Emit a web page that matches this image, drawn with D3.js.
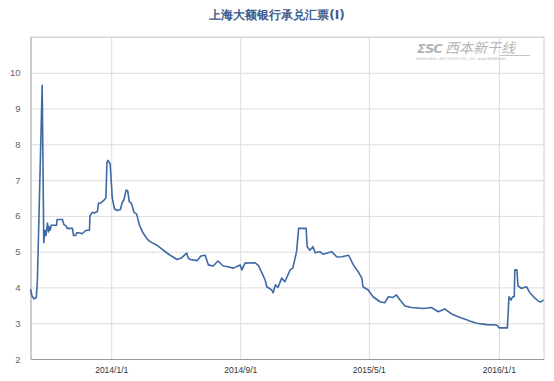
<!DOCTYPE html>
<html>
<head>
<meta charset="utf-8">
<script src="https://cdn.jsdelivr.net/npm/d3@7"></script>
<style>
  body { margin: 0; background: #fff; }
  svg { display: block; font-family: "DejaVu Sans", Arial, sans-serif; }
  .grid line { stroke: #dcdcdc; }
  .grid path { display: none; }
</style>
</head>
<body>
<svg id="chart" width="554" height="381"></svg>
<script>
const title = '上海大额银行承兑汇票(Ⅰ)';

// daily series, sampled at the turning points
const dates = [
  '2013-08-02','2013-08-05','2013-08-09','2013-08-13','2013-08-15','2013-08-24','2013-08-27','2013-08-29','2013-08-31',
  '2013-09-03','2013-09-05','2013-09-06','2013-09-08','2013-09-10','2013-09-20','2013-09-21',
  '2013-10-01','2013-10-04','2013-10-08','2013-10-10','2013-10-20','2013-10-22','2013-10-26','2013-10-28',
  '2013-11-04','2013-11-07','2013-11-11','2013-11-15','2013-11-21','2013-11-22','2013-11-26','2013-11-30',
  '2013-12-06','2013-12-08','2013-12-13','2013-12-19','2013-12-22','2013-12-24','2013-12-26','2013-12-30',
  '2014-01-03','2014-01-07','2014-01-12','2014-01-18','2014-01-22','2014-01-25','2014-01-29',
  '2014-02-01','2014-02-04','2014-02-08','2014-02-13','2014-02-18','2014-02-23',
  '2014-03-02','2014-03-10','2014-03-15','2014-03-28','2014-04-09','2014-04-22',
  '2014-05-05','2014-05-13','2014-05-23','2014-05-26','2014-05-30','2014-06-12','2014-06-19','2014-06-27',
  '2014-07-03','2014-07-12','2014-07-21','2014-07-31','2014-08-09','2014-08-19',
  '2014-09-01','2014-09-04','2014-09-10','2014-09-29','2014-10-05','2014-10-12','2014-10-18','2014-10-21','2014-10-30',
  '2014-11-02','2014-11-06','2014-11-11','2014-11-18','2014-11-24','2014-12-04','2014-12-09','2014-12-16','2014-12-20',
  '2015-01-03','2015-01-05','2015-01-10','2015-01-16','2015-01-20','2015-01-29','2015-02-04','2015-02-20',
  '2015-03-02','2015-03-11','2015-03-24','2015-04-02','2015-04-11','2015-04-18','2015-04-20','2015-04-30',
  '2015-05-09','2015-05-22','2015-05-31','2015-06-07','2015-06-16','2015-06-22','2015-06-29',
  '2015-07-08','2015-07-21','2015-08-12','2015-08-27','2015-09-09','2015-09-21','2015-10-04','2015-10-20',
  '2015-11-01','2015-11-07','2015-11-20','2015-12-09','2015-12-28',
  '2016-01-02','2016-01-17','2016-01-20','2016-01-24','2016-01-27','2016-01-30','2016-01-31',
  '2016-02-04','2016-02-06','2016-02-13','2016-02-17','2016-02-22','2016-02-28',
  '2016-03-09','2016-03-17','2016-03-21','2016-03-25'
];
const values = [
  3.95,3.75,3.68,3.72,4.2,9.65,5.25,5.6,5.45,
  5.8,5.55,5.7,5.6,5.74,5.74,5.9,
  5.9,5.75,5.72,5.65,5.65,5.45,5.45,5.53,
  5.52,5.5,5.55,5.6,5.6,6.0,6.1,6.08,
  6.12,6.35,6.37,6.45,6.5,7.5,7.55,7.45,
  6.5,6.2,6.15,6.17,6.38,6.45,6.72,
  6.7,6.4,6.35,6.1,6.05,5.75,
  5.52,5.35,5.28,5.18,5.04,4.9,
  4.78,4.82,4.96,4.82,4.78,4.75,4.88,4.9,
  4.63,4.6,4.74,4.6,4.58,4.54,
  4.63,4.49,4.68,4.69,4.62,4.4,4.2,4.02,3.93,
  3.85,4.07,4.0,4.26,4.16,4.49,4.54,5.0,5.65,
  5.65,5.14,5.04,5.14,4.97,5.0,4.93,5.0,
  4.85,4.86,4.9,4.63,4.44,4.26,4.02,3.93,
  3.74,3.6,3.57,3.74,3.72,3.79,3.65,
  3.48,3.44,3.41,3.44,3.32,3.4,3.26,3.16,
  3.1,3.06,3.0,2.96,2.95,
  2.87,2.87,3.74,3.65,3.74,3.74,4.49,
  4.49,4.04,3.97,4.0,4.02,3.86,
  3.7,3.6,3.6,3.65
];

const xTickDates = ['2014-01-01', '2014-09-01', '2015-05-01', '2016-01-01'];
const xTickLabels = ['2014/1/1', '2014/9/1', '2015/5/1', '2016/1/1'];
const yTicks = [2, 3, 4, 5, 6, 7, 8, 9, 10];

const parse = d3.timeParse('%Y-%m-%d');
const data = dates.map((d, i) => ({ date: parse(d), value: values[i] }));

const svg = d3.select('#chart');
const m = { left: 30.5, right: 544, top: 37, bottom: 359 };

const x = d3.scaleTime()
  .domain([parse('2013-08-02'), parse('2016-03-26')])
  .range([m.left, m.right]);
const y = d3.scaleLinear().domain([2, 11]).range([m.bottom, m.top]);

// title
svg.append('text')
  .attr('x', 277).attr('y', 19)
  .attr('text-anchor', 'middle')
  .attr('font-size', 12).attr('font-weight', 'bold')
  .attr('fill', '#3d5a8c')
  .text(title);

// horizontal grid
svg.append('g')
  .attr('class', 'grid')
  .attr('transform', `translate(${m.left},0)`)
  .call(d3.axisLeft(y).tickValues([3, 4, 5, 6, 7, 8, 9, 10, 11]).tickSize(-(m.right - m.left)).tickFormat(''));

// vertical grid
svg.append('g')
  .attr('class', 'grid')
  .attr('transform', `translate(0,${m.bottom})`)
  .call(d3.axisBottom(x).tickValues(xTickDates.map(parse)).tickSize(-(m.bottom - m.top)).tickFormat(''))
  .selectAll('line').attr('stroke', '#e8e8e8');

// border
svg.append('line').attr('x1', m.right).attr('x2', m.right).attr('y1', m.top).attr('y2', m.bottom).attr('stroke', '#d0d0d0');
svg.append('line').attr('x1', m.left).attr('x2', m.right).attr('y1', m.top).attr('y2', m.top).attr('stroke', '#d0d0d0');

// watermark
const wm = svg.append('g').attr('fill', '#b4b4b4');
wm.append('text').attr('x', 417).attr('y', 53)
  .attr('font-size', 13).attr('font-weight', 'bold').attr('font-style', 'italic')
  .attr('letter-spacing', -1).text('ΣSC');
wm.append('text').attr('x', 445).attr('y', 53)
  .attr('font-size', 14).attr('font-style', 'italic')
  .attr('font-family', '"Noto Sans CJK SC", sans-serif')
  .text('西本新干线');
wm.append('text').attr('x', 416).attr('y', 60)
  .attr('font-size', 3.6).text('XIBEN NEW LINE STOCK CO., LTD.   www.96369.net');
wm.append('line').attr('x1', 500).attr('x2', 530).attr('y1', 55.5).attr('y2', 55.5)
  .attr('stroke', '#b4b4b4').attr('stroke-width', 0.8);

// axes
const yAxis = svg.append('g')
  .attr('transform', `translate(${m.left},0)`)
  .call(d3.axisLeft(y).tickValues(yTicks).tickSize(0).tickPadding(10));
yAxis.select('.domain').attr('stroke', '#999');
yAxis.selectAll('text').attr('fill', '#666').attr('font-size', 9.5);

const xAxis = svg.append('g')
  .attr('transform', `translate(0,${m.bottom})`)
  .call(d3.axisBottom(x).tickValues(xTickDates.map(parse)).tickSize(0).tickPadding(8)
    .tickFormat((d, i) => xTickLabels[i]));
xAxis.select('.domain').attr('stroke', '#999');
xAxis.selectAll('text').attr('fill', '#333').attr('font-size', 8.5);

// series
const line = d3.line().x(d => x(d.date)).y(d => y(d.value));
svg.append('path')
  .datum(data)
  .attr('fill', 'none')
  .attr('stroke', '#3f69a3')
  .attr('stroke-width', 1.6)
  .attr('stroke-linejoin', 'round')
  .attr('d', line);
</script>
</body>
</html>
